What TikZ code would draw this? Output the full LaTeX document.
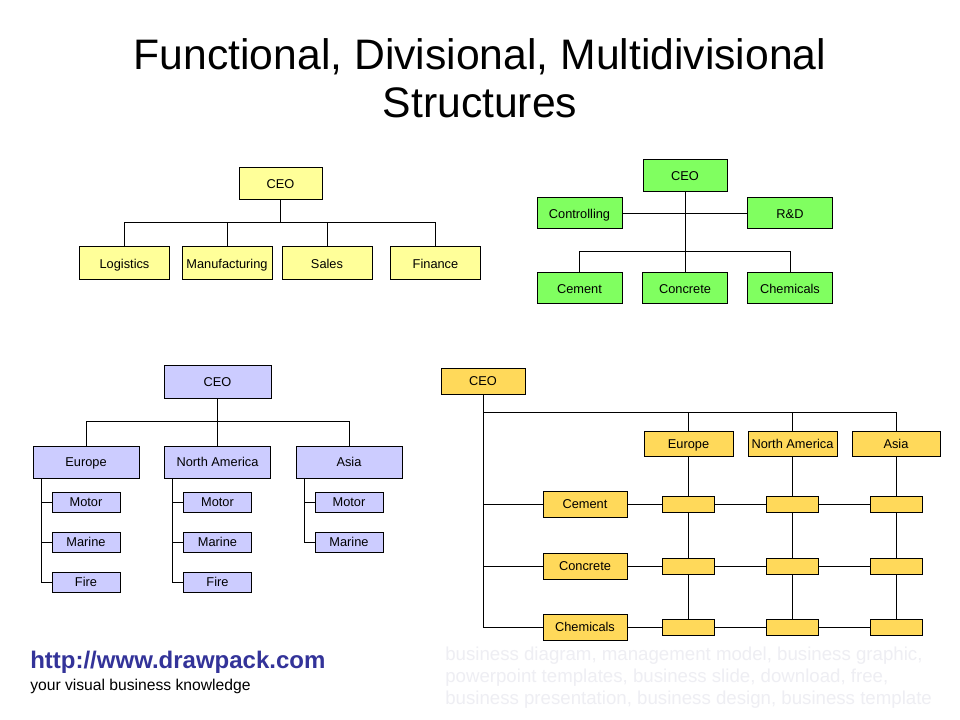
\documentclass[tikz,border=0pt]{standalone}
\usepackage{fontspec}
\setmainfont{Liberation Sans}

\definecolor{funcyellow}{RGB}{255,255,153}
\definecolor{divgreen}{RGB}{128,255,96}
\definecolor{geolilac}{RGB}{204,204,255}
\definecolor{matgold}{RGB}{255,217,90}
\definecolor{urlblue}{RGB}{51,51,153}
\definecolor{tagsgray}{RGB}{238,238,243}

\tikzset{
  orgbox/.style={draw=black, line width=0.75pt, inner sep=0pt, outer sep=0pt,
    text height=6.9pt, text depth=0pt, font=\fontsize{9.6}{11}\selectfont},
  boxsize/.style 2 args={minimum width=#1*0.75pt, minimum height=#2*0.75pt},
  link/.style={draw=black, line width=0.75pt},
}

\begin{document}
\begin{tikzpicture}[x=0.75pt, y=-0.75pt,
  funcbox/.style={orgbox, fill=funcyellow, boxsize={90}{33}},
  divbox/.style={orgbox, fill=divgreen, boxsize={85}{31}},
  geobox/.style={orgbox, fill=geolilac, boxsize={106}{32}},
  subbox/.style={orgbox, fill=geolilac, boxsize={68}{20}},
  matbox/.style={orgbox, fill=matgold, boxsize={84}{26}},
  cellbox/.style={orgbox, fill=matgold, boxsize={52}{16}}]
  \useasboundingbox[fill=white] (0,0) rectangle (960,720);

  % title
  \node[anchor=base, inner sep=0pt, font=\fontsize{32}{36}\selectfont] (title) at (480,70) {Functional, Divisional, Multidivisional};
  \node[anchor=base, inner sep=0pt, font=\fontsize{32}{36}\selectfont] (title2) at (480,118) {Structures};

  % functional
  \node[funcbox, boxsize={83}{32}] (fceo) at (280.5,184) {CEO};
  \node[funcbox] (flog) at (124.5,263.5) {Logistics};
  \node[funcbox] (fman) at (227,263.5) {Manufacturing};
  \node[funcbox] (fsal) at (327,263.5) {Sales};
  \node[funcbox] (ffin) at (435.5,263.5) {Finance};
  \coordinate (fbus) at (280.5,223);
  \draw[link] (fceo.south) -- (fbus);
  \foreach \c in {flog,fman,fsal,ffin}
    \draw[link] (\c.north) |- (fbus);

  % divisional
  \node[divbox, boxsize={84}{32}] (dceo) at (685,176) {CEO};
  \node[divbox] (dctl) at (579.5,213.5) {Controlling};
  \node[divbox] (drd) at (790,213.5) {R\&D};
  \node[divbox] (dcem) at (579.5,288.5) {Cement};
  \node[divbox] (dcon) at (685,288.5) {Concrete};
  \node[divbox] (dchem) at (790,288.5) {Chemicals};
  \coordinate (dbus) at (685,252);
  \draw[link] (dctl.east) -- (drd.west);
  \draw[link] (dceo.south) -- (dbus);
  \foreach \c in {dcem,dcon,dchem}
    \draw[link] (\c.north) |- (dbus);

  % geographic
  \node[geobox, boxsize={107}{33}] (gceo) at (217.5,381.5) {CEO};
  \node[geobox] (geu) at (86,462) {Europe};
  \node[geobox] (gna) at (217.5,462) {North America};
  \node[geobox] (gas) at (349,462) {Asia};
  \coordinate (gbus) at (217.5,421);
  \draw[link] (gceo.south) -- (gbus);
  \foreach \r in {geu,gna,gas}{
    \draw[link] (\r.north) |- (gbus);
    \coordinate (\r-spine) at ([xshift=6pt]\r.south west);
    \node[subbox] (\r-mot) at (\r |- 0,502) {Motor};
    \node[subbox] (\r-mar) at (\r |- 0,542) {Marine};
    \draw[link] (\r-spine) |- (\r-mot.west);
    \draw[link] (\r-spine) |- (\r-mar.west);
  }
  \foreach \r in {geu,gna}{
    \node[subbox] (\r-fire) at (\r |- 0,582) {Fire};
    \draw[link] (\r-spine) |- (\r-fire.west);
  }

  % matrix
  \node[matbox] (mceo) at (483,381) {CEO};
  \node[matbox, boxsize={89}{25}] (meu) at (688.5,443.5) {Europe};
  \node[matbox, boxsize={89}{25}] (mna) at (792.5,443.5) {North America};
  \node[matbox, boxsize={88}{25}] (mas) at (896,443.5) {Asia};
  \node[matbox] (mcem) at (585,504) {Cement};
  \node[matbox] (mcon) at (585,566) {Concrete};
  \node[matbox] (mchem) at (585,627) {Chemicals};
  \coordinate (mbus) at (483,412);
  \foreach \i/\row in {1/mcem,2/mcon,3/mchem}
    \foreach \j/\col in {1/meu,2/mna,3/mas}
      \node[cellbox] (c\i\j) at (\col |- \row) {};
  \draw[link] (mceo.south) |- (mchem.west);
  \foreach \row in {mcem,mcon}
    \draw[link] (\row.west) -| (mceo.south);
  \foreach \col in {meu,mna,mas}
    \draw[link] (\col.north) |- (mbus);
  \foreach \i/\row in {1/mcem,2/mcon,3/mchem}
    \draw[link] (\row.east) -- (c\i1.west) (c\i1.east) -- (c\i2.west) (c\i2.east) -- (c\i3.west);
  \foreach \j/\col in {1/meu,2/mna,3/mas}
    \draw[link] (\col.south) -- (c1\j.north) (c1\j.south) -- (c2\j.north) (c2\j.south) -- (c3\j.north);

  % footer
  \node[anchor=base west, inner sep=0pt, text=urlblue, font=\bfseries\fontsize{18}{21}\selectfont] (url) at (30,668) {http://www.drawpack.com};
  \node[anchor=base west, inner sep=0pt, font=\fontsize{11.75}{14}\selectfont] (slogan) at (30,690) {your visual business knowledge};
  \node[anchor=north west, inner sep=0pt, align=left, text=tagsgray, font=\fontsize{14}{16.5}\selectfont] (tags) at (445,647)
    {business diagram, management model, business graphic,\\
     powerpoint templates, business slide, download, free,\\
     business presentation, business design, business template};
\end{tikzpicture}
\end{document}
